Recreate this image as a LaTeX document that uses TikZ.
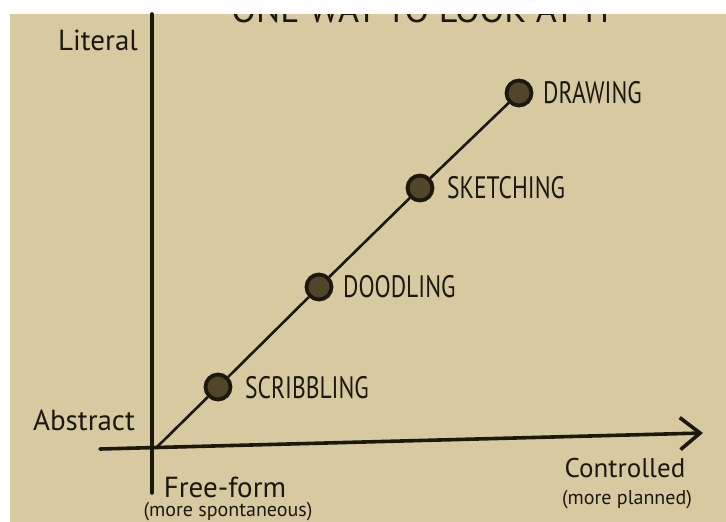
\documentclass[tikz,border=0pt]{standalone}
\usepackage{fontspec}
\setmainfont{PT Sans}
\newfontfamily\handcaps[FakeStretch=0.76]{PT Sans}
\newfontfamily\hand{PT Sans}
\usetikzlibrary{arrows.meta}
\definecolor{paper}{RGB}{215,201,160}
\definecolor{ink}{RGB}{28,24,14}
\definecolor{dotfill}{RGB}{80,71,42}
\tikzset{
  axis/.style={draw=ink, line width=3.6pt, line cap=round},
  trend/.style={draw=ink, line width=2.6pt},
  stagedot/.style={circle, draw=ink, line width=3.8pt, fill=dotfill, minimum size=25pt, inner sep=0pt},
  stagelabel/.style={anchor=base west, inner sep=0pt, text=ink, font=\handcaps\fontsize{31}{31}\selectfont},
  axislabel/.style={inner sep=0pt, text=ink, font=\hand\fontsize{29}{29}\selectfont},
  sublabel/.style={inner sep=0pt, text=ink, font=\hand\fontsize{20}{20}\selectfont},
}
\begin{document}
\begin{tikzpicture}[x=1pt,y=-1pt]
\useasboundingbox (0,0) rectangle (726,522);
\fill[white] (0,0) rectangle (726,522);
\fill[paper] (10,14) rectangle (726,522);
% title, cut off by the page edge as in the photo
\begin{scope}
\clip (10,14) rectangle (726,522);
\node[anchor=base, inner sep=0pt, text=ink, font=\hand\fontsize{36}{36}\selectfont] (title) at (423,23) {ONE WAY TO LOOK AT IT};
\end{scope}
% axes
\coordinate (ytop) at (152,14);
\coordinate (ybot) at (152,493);
\coordinate (xleft) at (100,449);
\coordinate (xright) at (703,433);
\coordinate (origin) at (157,447);
\draw[axis] (ytop) -- (ybot);
\draw[axis, -{Straight Barb[length=20pt,width=32pt,line width=3.6pt]}] (xleft) -- (xright);
% stages
\node[stagedot] (scrib) at (218,387) {};
\node[stagedot] (dood) at (319,287) {};
\node[stagedot] (sketch) at (420,188) {};
\node[stagedot] (draw) at (519,93) {};
\draw[trend] (origin) -- (scrib);
\draw[trend] (scrib) -- (dood);
\draw[trend] (dood) -- (sketch);
\draw[trend] (sketch) -- (draw);
\node[stagelabel] (scribl) at (245,398) {SCRIBBLING};
\node[stagelabel] (doodl) at (343,297) {DOODLING};
\node[stagelabel] (sketchl) at (447,198) {SKETCHING};
\node[stagelabel] (drawl) at (543,103) {DRAWING};
% axis labels
\node[axislabel] (literal) at (98,40) {Literal};
\node[axislabel] (abstract) at (84,420) {Abstract};
\node[axislabel] (free) at (225,487) {Free-form};
\node[sublabel] (spont) at (228,512) {(more spontaneous)};
\node[axislabel, font=\hand\fontsize{27}{27}\selectfont] (contr) at (625,468) {Controlled};
\node[sublabel] (plan) at (627,500) {(more planned)};
\end{tikzpicture}
\end{document}
